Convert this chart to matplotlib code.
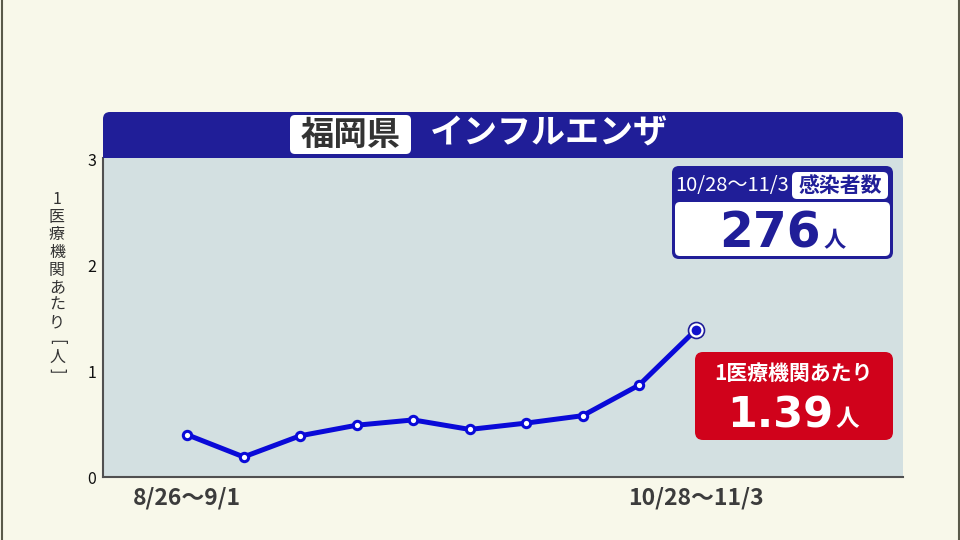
import matplotlib
matplotlib.use('Agg')
import matplotlib.pyplot as plt
from matplotlib.patches import FancyBboxPatch, Rectangle

# ---- data ----
weeks = ['8/26～9/1', '9/2～9/8', '9/9～9/15', '9/16～9/22', '9/23～9/29',
         '9/30～10/6', '10/7～10/13', '10/14～10/20', '10/21～10/27', '10/28～11/3']
values = [0.40, 0.19, 0.39, 0.49, 0.54, 0.45, 0.51, 0.58, 0.87, 1.39]
shown_tick_idx = [0, 9]
yticks = [0, 1, 2, 3]
pref = '福岡県'
title = 'インフルエンザ'
period = '10/28～11/3'
cases_label = '感染者数'
cases = '276'
per_label = '1医療機関あたり'
per_value = '1.39'
unit = '人'
ylabel_chars = ['1', '医', '療', '機', '関', 'あ', 'た', 'り', '[', '人', ']']

JP = ['Noto Sans CJK JP', 'DejaVu Sans']
plt.rcParams['font.family'] = JP

NAVY = '#201e98'
CREAM = '#f8f8ea'
PLOTBG = '#d3e0e1'
LINE = '#0a0ad8'
RED = '#d0021b'

W, H = 960, 540
fig = plt.figure(figsize=(9.6, 5.4), dpi=100)
fig.patch.set_facecolor(CREAM)


def px(x0, y0, x1, y1):
    return [x0 / W, 1 - y1 / H, (x1 - x0) / W, (y1 - y0) / H]


ax = fig.add_axes(px(103, 158, 903, 477))
ax.set_facecolor(PLOTBG)
xs = list(range(len(values)))
ax.plot(xs, values, color=LINE, lw=3.6, marker='o', ms=6, mfc='white',
        mec=LINE, mew=2.2, zorder=3, solid_joinstyle='round')
ax.plot([xs[-1]], [values[-1]], 'o', ms=11.5, mfc='white', mec=NAVY, mew=1.2, zorder=4)
ax.plot([xs[-1]], [values[-1]], 'o', ms=7, mfc='#1212cc', mec='none', zorder=5)
ax.set_xlim(-1.49, 12.67)
ax.set_ylim(0, 3.018)
ax.set_yticks(yticks)
ax.set_yticklabels([str(v) for v in yticks])
ax.set_xticks([xs[i] for i in shown_tick_idx])
ax.set_xticklabels([weeks[i] for i in shown_tick_idx])
ax.tick_params(axis='y', length=0, pad=5, labelsize=11.5, labelcolor='#111111')
ax.tick_params(axis='x', length=0, pad=7, labelsize=16.5, labelcolor='#3c3c3c')
for lab in ax.get_xticklabels():
    lab.set_fontweight('bold')
for s in ['top', 'right']:
    ax.spines[s].set_visible(False)
for s in ['left', 'bottom']:
    ax.spines[s].set_color('#505050')
    ax.spines[s].set_linewidth(1.5)

# ---- overlay in pixel coordinates ----
oax = fig.add_axes([0, 0, 1, 1], zorder=10)
oax.set_xlim(0, W)
oax.set_ylim(H, 0)
oax.axis('off')
oax.patch.set_visible(False)

# frame lines at image edges
oax.plot([1.5, 1.5], [0, H], color='#5a5a4a', lw=1.5)
oax.plot([958.5, 958.5], [0, H], color='#5a5a4a', lw=1.5)

# banner
oax.add_patch(FancyBboxPatch((103, 112), 800, 46, boxstyle='round,pad=0,rounding_size=7',
                             fc=NAVY, ec='none'))
oax.add_patch(Rectangle((103, 135), 800, 23, fc=NAVY, ec='none'))
oax.add_patch(FancyBboxPatch((290, 115), 121, 39, boxstyle='round,pad=0,rounding_size=5',
                             fc='white', ec='none'))
oax.text(350.5, 135, pref, ha='center', va='center', fontsize=24, fontweight='bold',
         color='#333333')
oax.text(549, 133, title, ha='center', va='center', fontsize=24.5, fontweight='bold',
         color='white')

# info box
oax.add_patch(FancyBboxPatch((672, 166), 221, 93, boxstyle='round,pad=0,rounding_size=7',
                             fc=NAVY, ec='none'))
oax.add_patch(FancyBboxPatch((675, 202), 215, 54, boxstyle='round,pad=0,rounding_size=5',
                             fc='white', ec='none'))
oax.add_patch(FancyBboxPatch((792, 172), 96, 27, boxstyle='round,pad=0,rounding_size=5',
                             fc='white', ec='none'))
oax.text(732, 185, period, ha='center', va='center', fontsize=14.5, color='white')
oax.text(840, 185, cases_label, ha='center', va='center', fontsize=15, fontweight='bold',
         color=NAVY)
oax.text(821, 248, cases, ha='right', va='baseline', fontsize=35, fontweight='bold',
         color=NAVY, family='DejaVu Sans')
oax.text(823, 247, unit, ha='left', va='baseline', fontsize=16, fontweight='bold',
         color=NAVY)

# red box
oax.add_patch(FancyBboxPatch((695, 352), 198, 88, boxstyle='round,pad=0,rounding_size=8',
                             fc=RED, ec='none'))
oax.text(793, 373, per_label, ha='center', va='center', fontsize=15, fontweight='bold',
         color='white')
oax.text(833, 427, per_value, ha='right', va='baseline', fontsize=31, fontweight='bold',
         color='white', family='DejaVu Sans')
oax.text(835, 426, unit, ha='left', va='baseline', fontsize=17, fontweight='bold',
         color='white')

# vertical y label
ypos = [200, 217.5, 235, 252.5, 270, 287.5, 305, 322.5, 342, 357, 371]
for ch, yy in zip(ylabel_chars, ypos):
    rot = -90 if ch in '[]' else 0
    oax.text(57, yy, ch, ha='center', va='center', fontsize=11.5, color='#333333',
             rotation=rot)

fig.savefig('out.png', dpi=100, facecolor=CREAM)
